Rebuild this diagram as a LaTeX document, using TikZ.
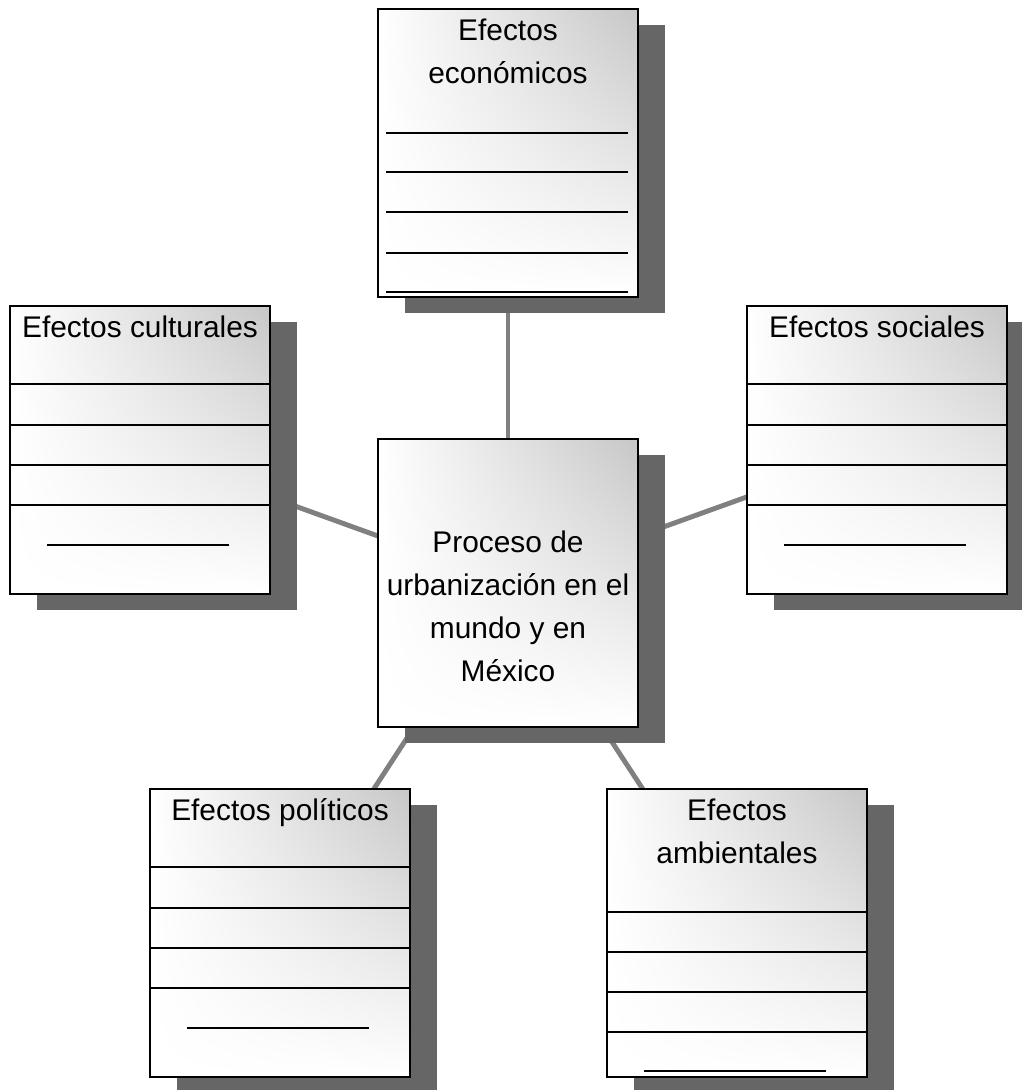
\documentclass[tikz,border=0pt]{standalone}
\usepackage{fontspec}
\setmainfont{Liberation Sans}
\usetikzlibrary{positioning,shadows,shadings,backgrounds}
\definecolor{shadowgray}{HTML}{666666}
\definecolor{linkgray}{HTML}{808080}
\tikzset{
	effectbox/.style={draw=black, line width=1.1pt, minimum width=5.2cm, minimum height=5.76cm, inner sep=0pt,
		upper left=white, upper right=black!22, lower left=white, lower right=white,
		drop shadow={fill=shadowgray, opacity=1, shadow xshift=0.54cm, shadow yshift=-0.32cm}},
	boxtitle/.style={font=\fontsize{17}{24.5}\selectfont, align=center, inner sep=0pt},
	rule/.style={line width=1.1pt},
	link/.style={linkgray, line width=2.8pt}
}
\begin{document}
\begin{tikzpicture}[x=0.02cm, y=-0.02cm]
	\useasboundingbox (0,0) rectangle (1022,1090);

	%boxes
	\node[effectbox] (econ) at (508,153) {};
	\node[effectbox] (cult) at (140,450) {};
	\node[effectbox] (soc) at (877,450) {};
	\node[effectbox] (centre) at (508,583) {};
	\node[effectbox] (pol) at (280,933) {};
	\node[effectbox] (amb) at (737,933) {};

	%titles
	\node[boxtitle, below=0.21cm of econ.north] (econ-t) {Efectos\\económicos};
	\node[boxtitle, below=0.21cm of cult.north] (cult-t) {Efectos culturales};
	\node[boxtitle, below=0.21cm of soc.north] (soc-t) {Efectos sociales};
	\node[boxtitle, below=1.85cm of centre.north] (centre-t) {Proceso de\\urbanización en el\\mundo y en\\México};
	\node[boxtitle, below=0.21cm of pol.north] (pol-t) {Efectos políticos};
	\node[boxtitle, below=0.21cm of amb.north] (amb-t) {Efectos\\ambientales};

	%writing lines
	\begin{scope}[shift={(econ.north west)}]
		\foreach \y in {125,164,204,245,284}
			\draw[rule] (9,\y) -- (251,\y);
	\end{scope}
	\foreach \b in {cult,soc,pol} {
		\begin{scope}[shift={(\b.north west)}]
			\foreach \y in {79,120,160,200}
				\draw[rule] (0,\y) -- (260,\y);
			\draw[rule] (38,240) -- (220,240);
		\end{scope}
	}
	\begin{scope}[shift={(amb.north west)}]
		\foreach \y in {124,164,204,244}
			\draw[rule] (0,\y) -- (260,\y);
		\draw[rule] (38,283) -- (220,283);
	\end{scope}

	%connectors behind the boxes
	\begin{pgfonlayer}{background}
		\foreach \b in {econ,cult,soc,pol,amb}
			\draw[link] (centre.center) -- (\b.center);
	\end{pgfonlayer}
\end{tikzpicture}
\end{document}
